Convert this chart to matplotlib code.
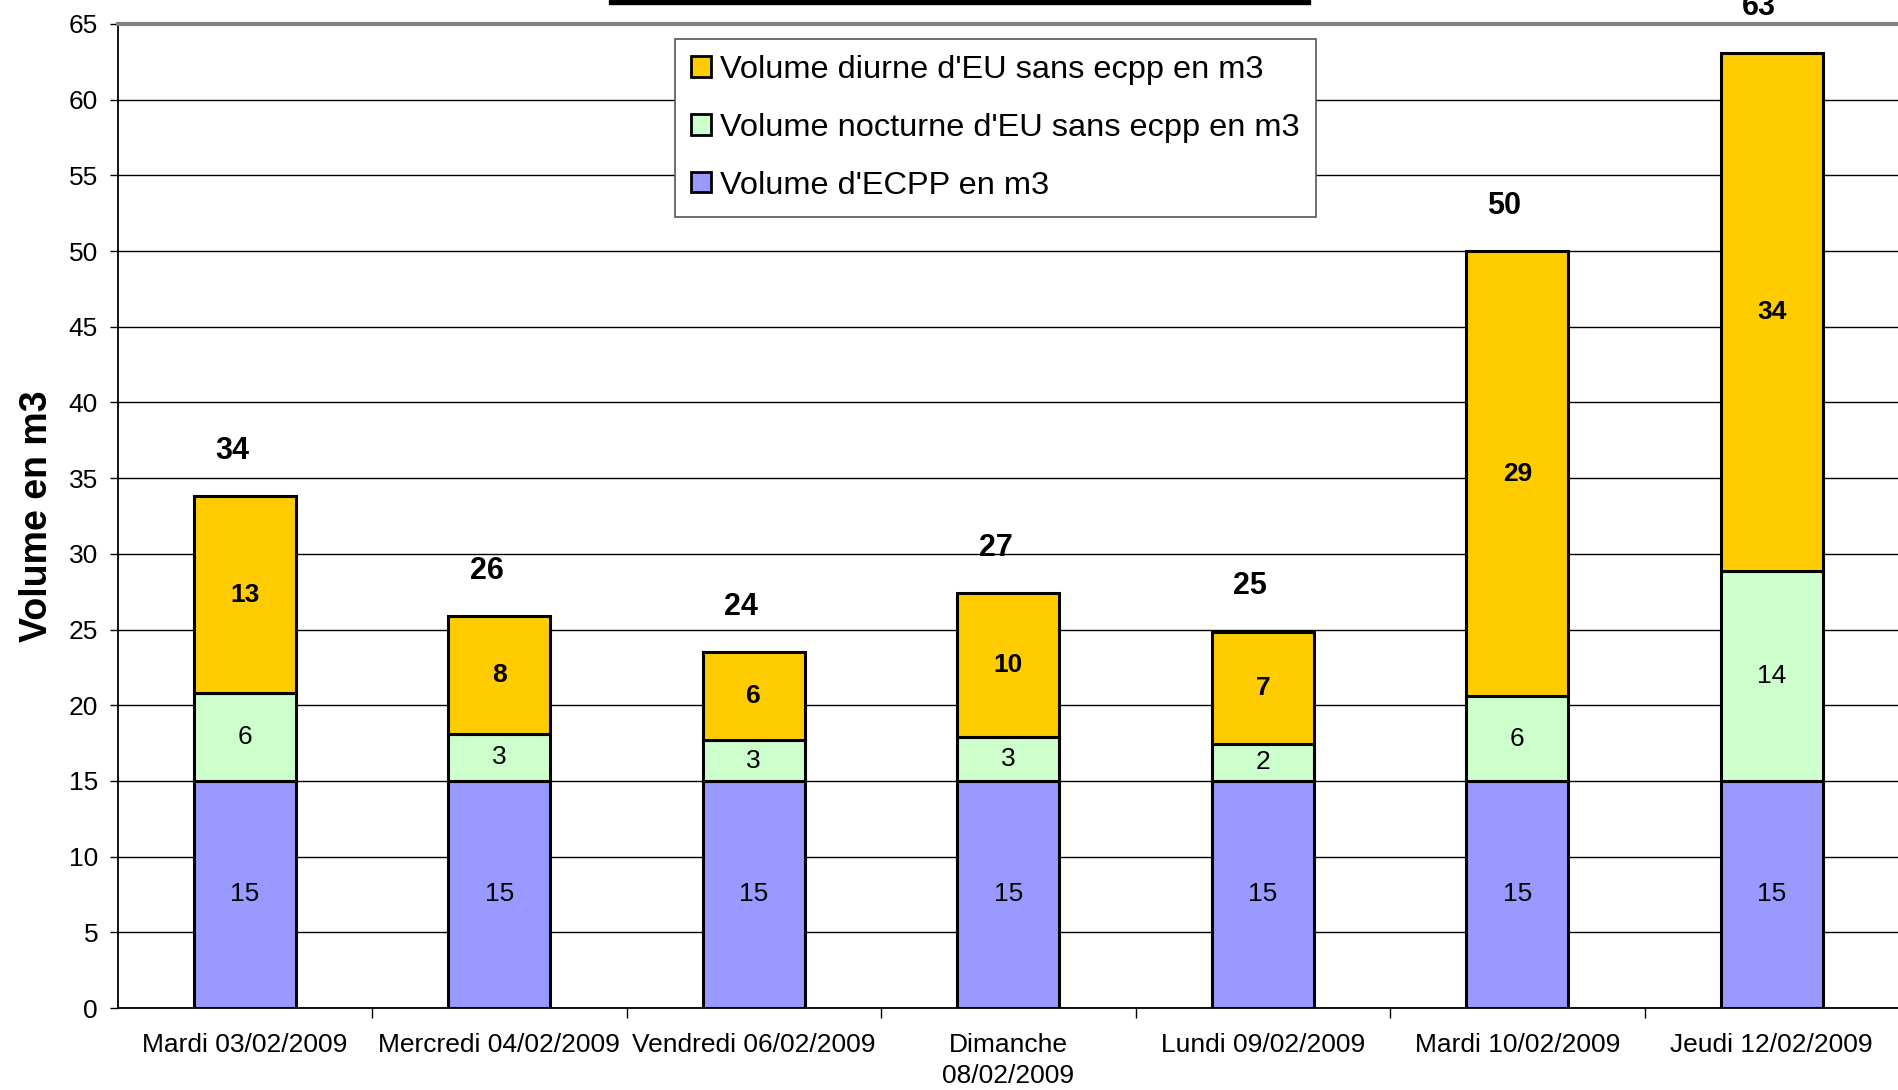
import matplotlib
matplotlib.use("Agg")
import matplotlib.pyplot as plt
import numpy as np
from matplotlib.patches import Rectangle

plt.rcParams['font.family'] = ['Liberation Sans', 'DejaVu Sans']

# donnees
jours = ["Mardi 03/02/2009", "Mercredi 04/02/2009", "Vendredi 06/02/2009",
         "Dimanche\n08/02/2009", "Lundi 09/02/2009", "Mardi 10/02/2009",
         "Jeudi 12/02/2009"]
ecpp = [15, 15, 15, 15, 15, 15, 15]
nocturne = [5.8, 3.1, 2.7, 2.9, 2.45, 5.6, 13.9]
diurne = [13.0, 7.8, 5.8, 9.5, 7.4, 29.4, 34.2]

label_diurne = "Volume diurne d'EU sans ecpp en m3"
label_nocturne = "Volume nocturne d'EU sans ecpp en m3"
label_ecpp = "Volume d'ECPP en m3"

c_diurne = '#FFCC00'
c_nocturne = '#CCFFCC'
c_ecpp = '#9999FF'

fig = plt.figure(figsize=(18.99, 10.90), dpi=100)
ax = fig.add_axes([0.0619, 0.0752, 0.9381, 0.9028])

x = np.arange(len(jours))
w = 0.4
ecpp = np.array(ecpp)
nocturne = np.array(nocturne)
diurne = np.array(diurne)
total = ecpp + nocturne + diurne

b1 = ax.bar(x, ecpp, w, color=c_ecpp, edgecolor='black', linewidth=2.2,
            label=label_ecpp, zorder=3)
b2 = ax.bar(x, nocturne, w, bottom=ecpp, color=c_nocturne, edgecolor='black',
            linewidth=2.2, label=label_nocturne, zorder=3)
b3 = ax.bar(x, diurne, w, bottom=ecpp + nocturne, color=c_diurne,
            edgecolor='black', linewidth=2.2, label=label_diurne, zorder=3)

# etiquettes dans les barres
for i in range(len(jours)):
    ax.text(x[i], ecpp[i] / 2, "%.0f" % ecpp[i], ha='center', va='center',
            fontsize=19, zorder=4)
    ax.text(x[i], ecpp[i] + nocturne[i] / 2, "%.0f" % nocturne[i],
            ha='center', va='center', fontsize=19, zorder=4)
    ax.text(x[i], ecpp[i] + nocturne[i] + diurne[i] / 2, "%.0f" % diurne[i],
            ha='center', va='center', fontsize=19, fontweight='bold', zorder=4)
    ax.text(x[i] - 0.05, total[i] + 3.0, "%.0f" % total[i], ha='center',
            va='center', fontsize=22, fontweight='bold', zorder=4,
            clip_on=False)

ax.set_xlim(-0.5, len(jours) - 0.5)
ax.set_ylim(0, 65)
ax.set_yticks(np.arange(0, 66, 5))
ax.yaxis.grid(True, color='black', linewidth=1.0, zorder=0)
ax.set_axisbelow(True)

ax.set_xticks(x)
ax.set_xticklabels(jours, fontsize=19, linespacing=1.35)
ax.tick_params(axis='x', which='major', length=0, pad=18)
ax.set_xticks(np.arange(0.5, len(jours) - 0.5, 1), minor=True)
ax.tick_params(axis='x', which='minor', length=7, width=1, direction='out')
ax.tick_params(axis='y', labelsize=19, length=6, width=1, direction='out', pad=8)

ax.spines['right'].set_visible(False)
ax.spines['top'].set_color('#808080')
ax.spines['top'].set_linewidth(3)
ax.spines['left'].set_linewidth(1.3)
ax.spines['bottom'].set_linewidth(1.3)

ax.set_ylabel("Volume en m3", fontsize=27, fontweight='bold', labelpad=10)

handles = [b3, b2, b1]
leg = ax.legend(handles, [label_diurne, label_nocturne, label_ecpp],
                loc='upper left', bbox_to_anchor=(675 / 1899, 1 - 39 / 1090),
                bbox_transform=fig.transFigure, fontsize=23.4, frameon=True,
                fancybox=False, edgecolor='#555555', framealpha=1,
                handlelength=0.6, handleheight=0.6, handletextpad=0.3,
                labelspacing=0.85, borderpad=0.5, borderaxespad=0)
leg.get_frame().set_linewidth(1.2)
for h in leg.legend_handles:
    h.set_linewidth(2)

# trait noir du titre coupe en haut
fig.patches.append(Rectangle((609 / 1899, 1 - 4 / 1090), 701 / 1899, 4 / 1090,
                             transform=fig.transFigure, color='black'))

plt.savefig("out.png", dpi=100)
